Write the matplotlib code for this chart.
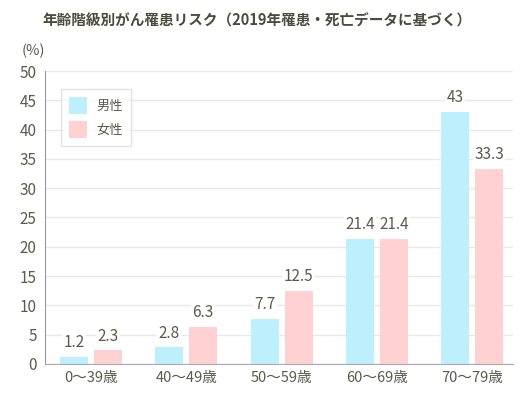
import matplotlib
matplotlib.use("Agg")
import matplotlib.pyplot as plt
import numpy as np

plt.rcParams['font.family'] = ['Noto Sans CJK JP', 'DejaVu Sans']

categories = ['0〜39歳', '40〜49歳', '50〜59歳', '60〜69歳', '70〜79歳']
male = [1.2, 2.8, 7.7, 21.4, 43]
female = [2.3, 6.3, 12.5, 21.4, 33.3]
male_labels = ['1.2', '2.8', '7.7', '21.4', '43']
female_labels = ['2.3', '6.3', '12.5', '21.4', '33.3']

text_color = '#5a5a4e'
male_color = '#bdeffd'
female_color = '#ffd1d3'

fig = plt.figure(figsize=(5.29, 3.99), dpi=100)
ax = fig.add_axes([0.085, 0.088, 0.885, 0.734])

x = np.arange(len(categories))
w = 0.294
off = 0.178
b1 = ax.bar(x - off, male, w, color=male_color, label='男性', zorder=2)
b2 = ax.bar(x + off, female, w, color=female_color, label='女性', zorder=2)

for bars, labels in [(b1, male_labels), (b2, female_labels)]:
    for rect, lab in zip(bars, labels):
        ax.text(rect.get_x() + rect.get_width() / 2, rect.get_height() + 1.0, lab,
                ha='center', va='bottom', fontsize=11, color=text_color, zorder=3,
                bbox=dict(facecolor='white', edgecolor='none', pad=1))

ax.set_xlim(-0.483, 4.43)
ax.set_ylim(0, 50)
ax.set_yticks(range(0, 51, 5))
ax.set_xticks(x)
ax.set_xticklabels(categories)
ax.tick_params(axis='x', colors=text_color, labelsize=10.5, length=0, pad=5)
ax.tick_params(axis='y', colors=text_color, labelsize=11, length=0, pad=6)
ax.yaxis.grid(True, color='#e8e8e8', linewidth=1, zorder=0)
ax.set_axisbelow(True)
for s in ['top', 'right']:
    ax.spines[s].set_visible(False)
ax.spines['left'].set_color('#999999')
ax.spines['bottom'].set_color('#aaaaaa')

ax.text(0.0, 1.045, '(%)', transform=ax.transAxes, ha='right', va='bottom',
        fontsize=10.5, color=text_color)

leg = ax.legend(loc='upper left', bbox_to_anchor=(0.02, 0.96), fontsize=9.5,
                frameon=True, fancybox=False, handlelength=1.4, handleheight=1.6,
                labelspacing=0.5, borderpad=0.6, handletextpad=0.7)
leg.get_frame().set_edgecolor('#dddddd')
leg.get_frame().set_linewidth(1)
for t in leg.get_texts():
    t.set_color(text_color)

fig.text(0.485, 0.948, '年齢階級別がん罹患リスク（2019年罹患・死亡データに基づく）',
         ha='center', va='center', fontsize=10.5, fontweight='bold', color='#4a4a3e')

fig.savefig('out.png', dpi=100)
